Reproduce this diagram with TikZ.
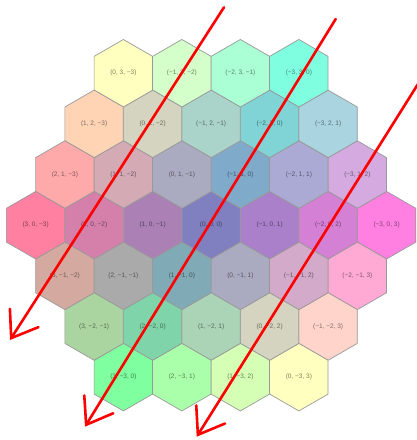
\documentclass[tikz,border=0pt]{standalone}
\usepackage{fontspec}
\setmainfont{Liberation Sans}
\usetikzlibrary{arrows.meta}
\newcommand\mysgn[1]{\ifnum#1<0 −\number\numexpr-#1\relax\else#1\fi}
\tikzset{
  hexedge/.style={draw=black!40, line width=0.7pt},
  hexlabel/.style={inner sep=0pt, font=\fontsize{6.5}{7}\selectfont},
  redarrow/.style={draw=red, line width=2.6pt, line cap=round,
    -{Straight Barb[length=24pt,width=34pt,line cap=round]}}
}
\begin{document}
\begin{tikzpicture}[x=1pt,y=-1pt]
\useasboundingbox (0,0) rectangle (417,440);
\def\W{58.5}\def\R{33.77}
\foreach \q in {-3,...,3}{
 \foreach \r in {-3,...,3}{
  \pgfmathtruncatemacro\s{-\q-\r}
  \pgfmathtruncatemacro\ok{abs(\s)<=3}
  \ifnum\ok=1
   \pgfmathsetmacro\px{211.1-(\q+\r/2)*\W}
   \pgfmathsetmacro\py{225.2-\r*1.5*\R}
   \pgfmathtruncatemacro\cr{128+127*abs(\s)/3}
   \pgfmathtruncatemacro\cg{128+127*abs(\r)/3}
   \pgfmathtruncatemacro\cb{192-32*\q/3}
   \definecolor{hexfill}{RGB}{\cr,\cg,\cb}
   \draw[hexedge, fill=hexfill] (\px,\py) +(90:\R) -- +(30:\R) -- +(-30:\R)
      -- +(-90:\R) -- +(-150:\R) -- +(150:\R) -- cycle;
   \node[hexlabel, text=hexfill!50!black] (h\q\r) at (\px,\py)
      {(\mysgn{\q}, \mysgn{\r}, \mysgn{\s})};
  \fi
 }
}
\coordinate (a1s) at (224,7.3);   \coordinate (a1e) at (10,340);
\coordinate (a2s) at (335.7,19);  \coordinate (a2e) at (85,426.7);
\coordinate (a3s) at (418,84);    \coordinate (a3e) at (196.7,436.7);
\draw[redarrow] (a1s) -- (a1e);
\draw[redarrow] (a2s) -- (a2e);
\draw[redarrow] (a3s) -- (a3e);
\end{tikzpicture}
\end{document}
